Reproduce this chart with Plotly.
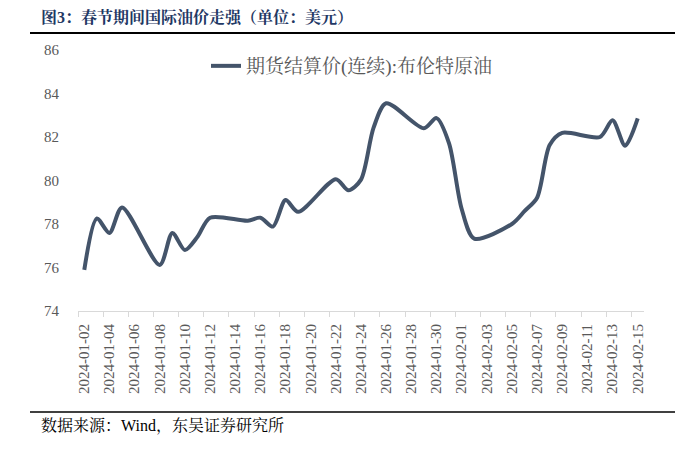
import plotly.graph_objects as go
import pandas as pd

dates = [d.strftime("%Y-%m-%d") for d in pd.date_range("2024-01-02", "2024-02-15")]
trade_dates = ["2024-01-02","2024-01-03","2024-01-04","2024-01-05","2024-01-08","2024-01-09",
               "2024-01-10","2024-01-11","2024-01-12","2024-01-15","2024-01-16","2024-01-17",
               "2024-01-18","2024-01-19","2024-01-22","2024-01-23","2024-01-24","2024-01-25",
               "2024-01-26","2024-01-29","2024-01-30","2024-01-31","2024-02-01","2024-02-02",
               "2024-02-05","2024-02-06","2024-02-07","2024-02-08","2024-02-09","2024-02-12",
               "2024-02-13","2024-02-14","2024-02-15"]
brent = [75.89,78.25,77.59,78.76,76.12,77.59,
         76.80,77.41,78.29,78.15,78.29,77.88,
         79.10,78.56,80.06,79.55,80.04,82.43,
         83.55,82.40,82.87,81.71,78.70,77.33,
         78.00,78.59,79.21,81.63,82.19,82.00,
         82.77,81.60,82.86]
series_name = "期货结算价(连续):布伦特原油"
title_text = "图3：春节期间国际油价走强（单位：美元）"
source_text = "数据来源：Wind，东吴证券研究所"
y_ticks = [74, 76, 78, 80, 82, 84, 86]

lookup = dict(zip(trade_dates, brent))
y_vals = [lookup.get(d) for d in dates]

OFF = 8  # browser body margin
W, H = 683 - OFF, 454 - OFF
L, R, T, B = 78 - OFF, 644 - OFF, 50 - OFF, 311 - OFF

def px(x):
    return (x - OFF - L) / (R - L)

def py(y):
    return (B - (y - OFF)) / (B - T)

serif = "Liberation Serif, Times New Roman, Noto Serif CJK SC, Noto Sans CJK SC, serif"

fig = go.Figure()
fig.add_trace(go.Scatter(
    x=dates, y=y_vals, mode="lines", name=series_name,
    line=dict(color="#44546A", width=4, shape="spline", smoothing=0.8),
    connectgaps=True,
))

fig.update_layout(
    width=W, height=H,
    margin=dict(l=L, r=W - R, t=T, b=H - B, autoexpand=False),
    paper_bgcolor="white", plot_bgcolor="white",
    showlegend=True,
    legend=dict(x=px(206), y=py(66), xanchor="left", yanchor="middle",
                font=dict(family=serif, size=19, color="#595959"),
                bgcolor="rgba(0,0,0,0)", itemwidth=30),
    xaxis=dict(type="category", categoryorder="array", categoryarray=dates,
               range=[-0.5, len(dates) - 0.5],
               tickmode="linear", tick0=0, dtick=2,
               tickson="boundaries", ticks="outside", ticklen=5,
               tickcolor="#D9D9D9", showline=True, linecolor="#D9D9D9", linewidth=1,
               showgrid=False, tickangle=-90, ticklabelstandoff=6,
               tickfont=dict(family=serif, size=15, color="#595959")),
    yaxis=dict(range=[74, 86], tickvals=y_ticks, showgrid=False, showline=False,
               zeroline=False, ticks="", ticklabelstandoff=18,
               tickfont=dict(family=serif, size=15, color="#595959")),
)

fig.add_annotation(text="<b>" + title_text + "</b>", xref="paper", yref="paper",
                   x=px(39), y=py(17), xanchor="left", yanchor="middle", showarrow=False,
                   font=dict(family=serif, size=16, color="#1F3864"))
fig.add_annotation(text=source_text, xref="paper", yref="paper",
                   x=px(39), y=py(426), xanchor="left", yanchor="middle", showarrow=False,
                   font=dict(family=serif, size=16, color="#000000"))
fig.add_shape(type="line", xref="paper", yref="paper", x0=px(30), x1=px(683),
              y0=py(33), y1=py(33), line=dict(color="#000000", width=2))
fig.add_shape(type="line", xref="paper", yref="paper", x0=px(30), x1=px(683),
              y0=py(412), y1=py(412), line=dict(color="#000000", width=1.5))

fig.write_html("out.html")
